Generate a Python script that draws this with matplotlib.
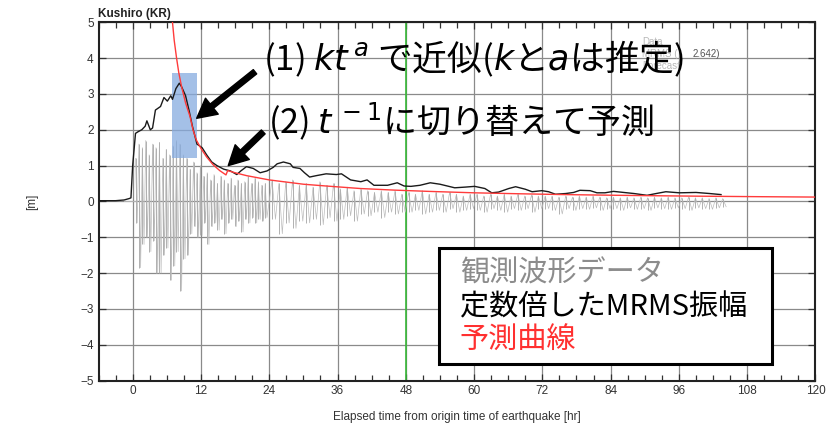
import numpy as np
import matplotlib
matplotlib.use("Agg")
import matplotlib.pyplot as plt
from matplotlib.patches import Rectangle
from matplotlib.ticker import MultipleLocator

plt.rcParams["font.family"] = ["Noto Sans CJK JP", "DejaVu Sans"]
plt.rcParams["mathtext.fontset"] = "dejavusans"

station = "Kushiro (KR)"

# MRMS amplitude (scaled), hours / metres
mrms_t = [-6, -3, -1.5, -0.6, -0.3, 0.0, 0.5, 1.0, 1.6, 2.2, 2.5, 3.1, 3.5, 4.0, 4.9,
          5.5, 6.1, 6.7, 7.0, 7.6, 8.2, 8.6, 9.3, 9.9, 10.5, 11.3, 12.2, 13.0, 13.9,
          14.8, 16.0, 17.2, 18.3, 19.0, 20.0, 21.2, 22.4, 23.6, 24.7, 25.4, 26.5,
          27.7, 28.2, 29.4, 30.2, 31.1, 32.3, 34.0, 35.8, 36.7, 38.3, 40.1, 41.2,
          42.4, 44.8, 46.5, 47.7, 48.9, 50.5, 52.3, 54.0, 56.6, 58.5, 60.1, 61.9,
          63.1, 64.3, 66.1, 67.3, 69.0, 70.2, 71.9, 73.1, 74.3, 76.1, 77.5, 78.6,
          80.4, 81.6, 83.0, 84.5, 86.3, 88.1, 90.4, 92.0, 93.7, 96.1, 99.0, 101.4, 103.4]
mrms_m = [0.02, 0.02, 0.04, 0.08, 0.1, 1.0, 1.9, 1.95, 2.0, 2.1, 2.25, 2.0, 2.05, 2.55, 2.65,
          2.9, 2.8, 2.95, 2.85, 3.15, 3.3, 3.2, 2.95, 2.55, 2.1, 1.6, 1.5, 1.3, 1.1,
          1.0, 0.9, 0.85, 0.75, 0.85, 0.97, 0.92, 0.8, 0.85, 0.95, 1.05, 1.1,
          1.05, 0.95, 0.92, 0.8, 0.68, 0.72, 0.77, 0.75, 0.77, 0.6, 0.55, 0.6,
          0.45, 0.45, 0.52, 0.43, 0.42, 0.45, 0.52, 0.48, 0.38, 0.4, 0.42, 0.36,
          0.24, 0.26, 0.36, 0.41, 0.34, 0.27, 0.3, 0.27, 0.2, 0.22, 0.25, 0.31,
          0.3, 0.24, 0.24, 0.28, 0.25, 0.22, 0.17, 0.22, 0.27, 0.24, 0.25, 0.22, 0.19]

# forecast curve: kt^a fit, then t^-1 extrapolation
pred_t = [6.9, 7.0, 7.3, 7.7, 8.1, 8.6, 9.3, 10.1, 10.6, 11.2, 12.0, 13.0, 14.1, 15.3,
          16.4, 16.7, 18, 20, 22, 24, 27, 30, 34, 40, 46, 52, 60, 68, 76, 84, 92,
          100, 110, 120]
pred_m = [5.2, 5.0, 4.5, 4.02, 3.6, 3.2, 2.75, 2.36, 2.0, 1.71, 1.48, 1.24, 1.03, 0.86,
          0.74, 0.86, 0.8, 0.72, 0.66, 0.6, 0.54, 0.48, 0.43, 0.36, 0.315, 0.28, 0.24,
          0.213, 0.19, 0.173, 0.158, 0.145, 0.132, 0.121]

# observed waveform: crest/trough pairs per oscillation
wave_dt1 = 0.6   # first 24 h
wave_m1 = [1.2, -0.6, 1.6, -1.85, 1.5, -1.2, 1.7, -1.0, 1.3, -1.4, 1.6, -1.1,
           1.5, -2.0, 1.65, -2.0, 1.2, -1.5, 1.45, -1.3, 1.3, -2.2, 1.55, -1.8,
           1.7, -1.4, 1.6, -2.5, 1.3, -1.6, 1.2, -1.5, 0.9, -0.9, 1.1, -0.7,
           0.8, -1.0, 1.0, -0.95, 0.7, -0.6, 0.8, -1.2, 0.6, -0.7, 0.75, -0.6,
           0.5, -0.8, 0.7, -0.5, 0.6, -0.9, 0.5, -0.6, 0.65, -0.5, 0.45, -0.7,
           0.6, -0.55, 0.5, -0.85, 0.55, -0.5, 0.7, -0.6, 0.5, -0.45, 0.65, -0.6,
           0.55, -0.5, 0.45, -0.55, 0.5, -0.45]
wave_dt2 = 1.2   # after 24 h
wave_m2 = [0.6, -0.5, 0.5, -0.9, 0.55, -0.6, 0.6, -0.75, 0.45, -0.55, 0.5, -0.6,
           0.4, -0.5, 0.55, -0.65, 0.45, -0.45, 0.5, -0.55,
           0.35, -0.5, 0.4, -0.4, 0.3, -0.55, 0.35, -0.35, 0.3, -0.4, 0.25, -0.3,
           0.3, -0.45, 0.25, -0.3, 0.3, -0.35, 0.2, -0.3,
           0.25, -0.3, 0.2, -0.25, 0.3, -0.35, 0.2, -0.3, 0.25, -0.25, 0.2, -0.3,
           0.25, -0.2, 0.2, -0.3, 0.15, -0.25, 0.2, -0.2,
           0.2, -0.25, 0.15, -0.3, 0.2, -0.2, 0.15, -0.25, 0.2, -0.3, 0.15, -0.2,
           0.2, -0.25, 0.15, -0.2, 0.18, -0.3, 0.15, -0.2,
           0.15, -0.2, 0.15, -0.25, 0.12, -0.35, 0.15, -0.2, 0.12, -0.25, 0.15, -0.2,
           0.12, -0.22, 0.15, -0.18, 0.12, -0.25, 0.1, -0.2,
           0.12, -0.2, 0.1, -0.25, 0.12, -0.18, 0.1, -0.22, 0.12, -0.2, 0.1, -0.25,
           0.12, -0.18, 0.1, -0.2, 0.12, -0.22, 0.1, -0.18,
           0.1, -0.2, 0.12, -0.25, 0.1, -0.18, 0.1, -0.2, 0.08, -0.22, 0.1, -0.18,
           0.08, -0.15]

fit_window = (6.85, 11.25, 1.22, 3.59)   # t0, t1, m0, m1
origin_mark = 48

legend_lines = ["観測波形データ", "定数倍したMRMS振幅", "予測曲線"]
legend_colors = ["#8c8c8c", "black", "#ff3030"]
inner_legend = ["Data", "MRMS (", "Forecast"]

crest1, trough1 = np.array(wave_m1[0::2]), np.array(wave_m1[1::2])
crest2, trough2 = np.array(wave_m2[0::2]), np.array(wave_m2[1::2])
# a crest and its trough sit half a period apart
tc1 = 0.5 + wave_dt1 * np.arange(len(crest1))
tc2 = tc1[-1] + wave_dt2 * (1 + np.arange(len(crest2)))
wave_t = np.concatenate([tc1, tc2])
crest = np.concatenate([crest1, crest2])
trough = np.concatenate([trough1, trough2])
half = np.concatenate([np.full(len(tc1), wave_dt1 / 2), np.full(len(tc2), wave_dt2 / 2)])
zig_t = np.column_stack([wave_t, wave_t + half]).ravel()
zig_m = np.column_stack([crest, trough]).ravel()

fig = plt.figure(figsize=(8.37, 4.25), dpi=100)
ax = fig.add_axes([0.1177, 0.1047, 0.8566, 0.8428])

ax.set_xlim(-6, 120)
ax.set_ylim(-5, 5)
ax.xaxis.set_major_locator(MultipleLocator(12))
ax.xaxis.set_minor_locator(MultipleLocator(3))
ax.yaxis.set_major_locator(MultipleLocator(1))
ax.grid(True, which="major", color="#8a8a8a", lw=0.9)
ax.set_axisbelow(True)
ax.tick_params(which="both", direction="in", top=True, right=True,
               labelsize=8.5, labelcolor="#333333", colors="#333333")
ax.tick_params(which="major", length=5, width=0.9)
ax.tick_params(which="minor", length=4, width=0.9)
for lab in ax.get_xticklabels() + ax.get_yticklabels():
    lab.set_family("Liberation Sans")
for sp in ax.spines.values():
    sp.set_linewidth(1.5)
    sp.set_color("#222222")

ax.axvline(origin_mark, color="#38b838", lw=1.2, zorder=1.5)

ax.plot([-1.5, 0.4], [0, 0], color="#b4b4b4", lw=0.7, zorder=2)
ax.plot(zig_t, zig_m, color="#bcbcbc", lw=0.5, zorder=2)
ax.vlines(wave_t, trough, crest, color="#b0b0b0", lw=0.7, zorder=2)
ax.add_patch(Rectangle((fit_window[0], fit_window[2]), fit_window[1] - fit_window[0],
                       fit_window[3] - fit_window[2], facecolor="#86abdf", alpha=0.75,
                       edgecolor="none", zorder=2.5))
ax.plot(mrms_t, mrms_m, color="#1a1a1a", lw=1.0, zorder=3)
ax.plot(pred_t, pred_m, color="#ff3b3b", lw=1.0, zorder=3.5)

ax.set_xlabel("Elapsed time from origin time of earthquake [hr]", family="Liberation Sans",
              fontsize=8.5, color="#333333", labelpad=10)
ax.set_ylabel("[m]", family="Liberation Sans", fontsize=8.5, color="#333333", labelpad=30)
fig.text(98 / 837, 1 - 14 / 425, station, family="Liberation Sans", fontweight="bold",
         fontsize=8.5, color="#222222", va="center", ha="left")

# small plot legend under the annotation text
for i, s in enumerate(inner_legend):
    ax.text(89.5, 4.45 - 0.33 * i, s, family="Liberation Sans", fontsize=7,
            color="#b8b8b8", va="center", zorder=4)
ax.text(98.4, 4.12, "2.642)", family="Liberation Sans", fontsize=7, color="#555555",
        va="center", zorder=4)

ax.text(22.9, 3.67, r"(1) $kt^{\,a}$ で近似($k$と$a$は推定)", fontsize=25,
        va="baseline", ha="left", zorder=6)
ax.text(23.8, 1.9, r"(2) $t^{\,-1}$に切り替えて予測", fontsize=24.5,
        va="baseline", ha="left", zorder=6)

arrow = dict(arrowstyle="simple,head_length=1.0,head_width=1.05,tail_width=0.28",
             mutation_scale=14, color="black", shrinkA=0, shrinkB=0)
ax.annotate("", xy=(11.25, 2.32), xytext=(21.5, 3.62), arrowprops=arrow, zorder=6)
ax.annotate("", xy=(16.8, 1.0), xytext=(22.95, 1.94), arrowprops=arrow, zorder=6)

ax.add_patch(Rectangle((53.8, -4.54), 58.5, 3.25, facecolor="white", edgecolor="black",
                       lw=2.2, zorder=5))
for i, (s, c) in enumerate(zip(legend_lines, legend_colors)):
    ax.text(57.5, -2.02 - 0.93 * i, s, fontsize=21, color=c, va="center", ha="left",
            zorder=6)

fig.savefig("out.png", dpi=100)
